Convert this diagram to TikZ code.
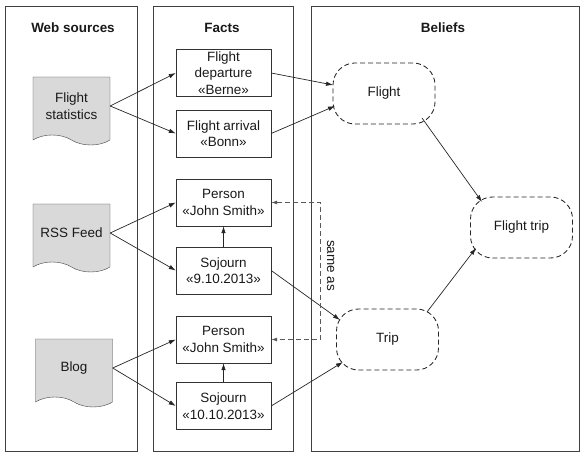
\documentclass[tikz,border=0pt]{standalone}
\usepackage{fontspec}
\setmainfont{Liberation Sans}
\usepackage{tikz}
\usetikzlibrary{arrows.meta}
\usetikzlibrary{shapes.symbols}

\tikzset{
  panel/.style={draw=black!75, line width=0.9bp},
  title/.style={font=\bfseries\fontsize{13.5}{16}\selectfont},
  source/.style={tape, tape bend top=none, tape bend bottom=out and in, tape bend height=10bp,
    draw=black!75, fill=black!15, minimum width=77bp, minimum height=68bp, align=center, inner sep=2bp},
  fact/.style={draw=black!80, minimum width=95bp, minimum height=47bp, align=center, inner xsep=1bp, inner ysep=0bp},
  belief/.style={draw=black!85, line width=0.85bp, dash pattern=on 5bp off 3bp, rounded corners=22bp,
    minimum width=102bp, minimum height=61bp},
  link/.style={-{Latex[length=7bp,width=4.5bp]}, line width=0.7bp, black!85},
  sameas/.style={{Latex[length=6bp,width=4bp]}-{Latex[length=6bp,width=4bp]},
    dash pattern=on 5bp off 3bp, line width=0.8bp, black!65}
}

\begin{document}
\begin{tikzpicture}[x=1bp,y=-1bp,every node/.style={font=\fontsize{13.5}{16.5}\selectfont, text=black!90}]
 	\useasboundingbox (0,0) rectangle (581,453);
 	% the three columns
 	\draw[panel] (5,6) rectangle (137,451);
 	\draw[panel] (153,6) rectangle (293,451);
 	\draw[panel] (311,6) rectangle (579,451);
 	\node[title] (websrc) at (73,28) {Web sources};
 	\node[title] (facts) at (222,28) {Facts};
 	\node[title] (beliefs) at (443,28) {Beliefs};
 	% web sources
 	\node[source] (stats) at (71.5,106) {Flight\\statistics};
 	\node[source] (rss) at (71.5,233) {RSS Feed};
 	\node[source] (blog) at (74,368) {Blog};
 	% facts
 	\node[fact] (dep) at (223.5,73) {Flight\\departure\\«Berne»};
 	\node[fact] (arr) at (223.5,133.5) {Flight arrival\\«Bonn»};
 	\node[fact] (pers1) at (223.5,202.5) {Person\\«John Smith»};
 	\node[fact] (soj1) at (223.5,270.5) {Sojourn\\«9.10.2013»};
 	\node[fact] (pers2) at (223.5,339.5) {Person\\«John Smith»};
 	\node[fact] (soj2) at (223.5,406) {Sojourn\\«10.10.2013»};
 	% beliefs
 	\node[belief] (flight) at (384,93.5) {Flight};
 	\node[belief] (trip) at (387.5,339.5) {Trip};
 	\node[belief] (ftrip) at (521.5,227.5) {Flight trip};
 	% sources to facts
 	\draw[link] (stats.east) -- (dep.west);
 	\draw[link] (stats.east) -- (arr.west);
 	\draw[link] (rss.east) -- (pers1.west);
 	\draw[link] (rss.east) -- (soj1.west);
 	\draw[link] (blog.east) -- (pers2.west);
 	\draw[link] (blog.east) -- (soj2.west);
 	\draw[link] (soj1) -- (pers1);
 	\draw[link] (soj2) -- (pers2);
 	% facts to beliefs
 	\draw[link] (dep.east) -- ([shift={(-51,-8.5)}]flight.center);
 	\draw[link] (arr.east) -- ([shift={(-49,12.5)}]flight.center);
 	\draw[link] (soj1.east) -- ([shift={(-47.5,-19.5)}]trip.center);
 	\draw[link] (soj2.east) -- ([shift={(-44.5,22.5)}]trip.center);
 	\draw[link] ([shift={(38,24.5)}]flight.center) -- ([shift={(-39.5,-25.5)}]ftrip.center);
 	\draw[link] ([shift={(39.5,-27.5)}]trip.center) -- ([shift={(-45.5,20.5)}]ftrip.center);
 	% same as
 	\draw[sameas] (pers1.east) -- ++(49,0) |- node[pos=0.23,rotate=-90,anchor=south,yshift=3bp] (samelbl) {same as} (pers2.east);
\end{tikzpicture}
\end{document}
